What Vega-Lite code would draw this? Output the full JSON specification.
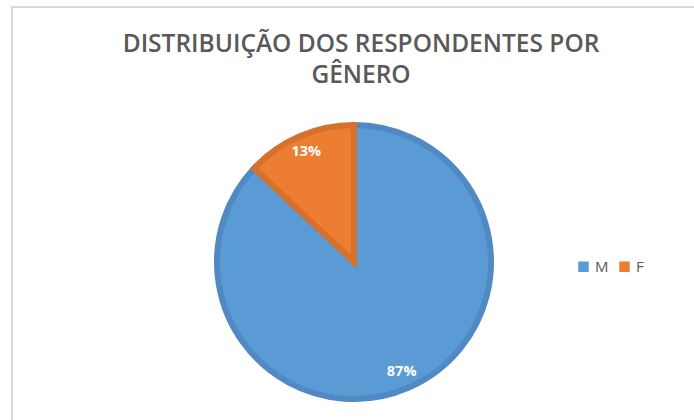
{
  "$schema": "https://vega.github.io/schema/vega-lite/v6.json",
  "autosize": "none",
  "width": 684,
  "height": 510,
  "padding": {"left": 12, "top": 7, "right": 0, "bottom": 0},
  "background": "white",
  "title": {
    "text": ["DISTRIBUIÇÃO DOS RESPONDENTES POR", "GÊNERO"],
    "font": "Open Sans",
    "fontSize": 24.5,
    "fontWeight": 600,
    "color": "#595959",
    "anchor": "middle",
    "frame": "group",
    "baseline": "top",
    "lineHeight": 31,
    "offset": -82,
    "dx": 7
  },
  "data": {
    "values": [
      {"genero": "M", "pct": 87, "label": "87%"},
      {"genero": "F", "pct": 13, "label": "13%"}
    ]
  },
  "layer": [
    {
      "data": {"values": [{"frame": 1}]},
      "mark": {"type": "rect", "fill": null, "stroke": "#d9d9d9", "strokeWidth": 2, "cornerRadius": 0},
      "encoding": {}
    },
    {
      "mark": {"type": "arc", "outerRadius": 137, "strokeWidth": 6, "strokeJoin": "miter"},
      "encoding": {
        "theta": {"field": "pct", "type": "quantitative", "stack": true},
        "order": {"field": "pct", "type": "quantitative", "sort": "descending"},
        "color": {
          "field": "genero", "type": "nominal",
          "scale": {"domain": ["M", "F"], "range": ["#5b9bd5", "#ed7d31"]},
          "legend": {
            "title": null, "orient": "none", "direction": "horizontal",
            "legendX": 564, "legendY": 252,
            "symbolType": "square", "symbolSize": 110, "symbolStrokeWidth": 0,
            "labelFont": "Open Sans", "labelFontSize": 15, "labelColor": "#595959",
            "columnPadding": 8, "labelOffset": 4
          }
        },
        "stroke": {
          "field": "genero", "type": "nominal",
          "scale": {"domain": ["M", "F"], "range": ["#5089c4", "#d5712b"]},
          "legend": null
        }
      }
    },
    {
      "mark": {"type": "text", "radius": 120, "font": "Open Sans", "fontSize": 14.5, "fontWeight": "bold", "fill": "white"},
      "encoding": {
        "theta": {"field": "pct", "type": "quantitative", "stack": true},
        "order": {"field": "pct", "type": "quantitative", "sort": "descending"},
        "text": {"field": "label"}
      }
    }
  ]
}
